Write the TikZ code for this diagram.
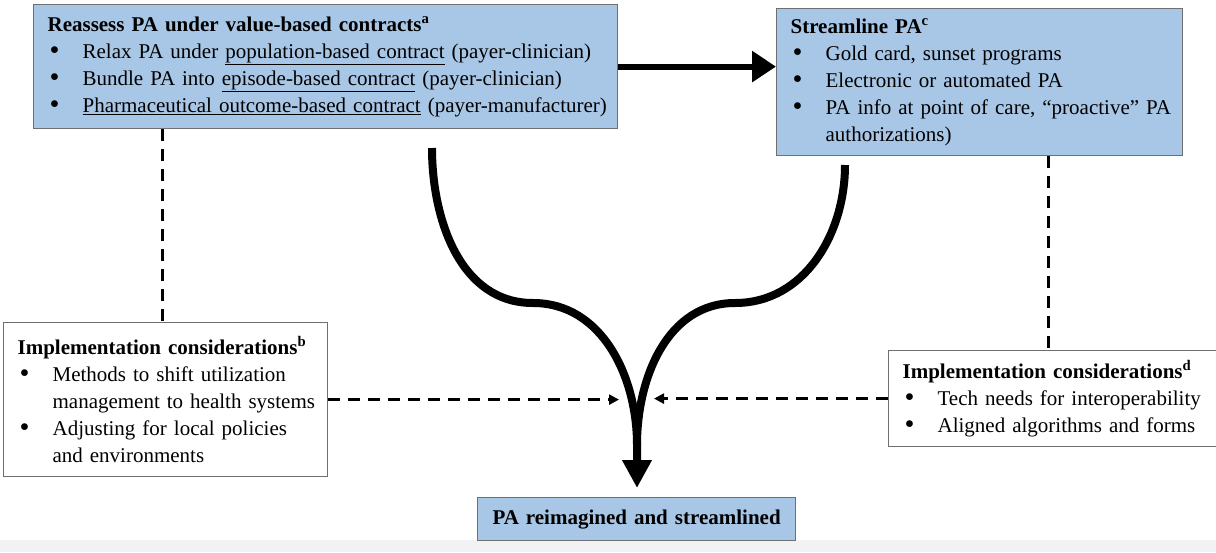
\documentclass[tikz,border=0pt]{standalone}
\usepackage{fontspec}
\setmainfont{Liberation Serif}
\usepackage{xcolor}
\usepackage{graphicx}
\usetikzlibrary{positioning,arrows.meta}

\definecolor{paBlue}{RGB}{168,198,229}
\definecolor{paEdge}{RGB}{110,110,115}
\definecolor{paBand}{RGB}{242,242,245}

\newcommand{\bitem}[1]{\mbox{\makebox[35pt][l]{\hspace{2pt}\raisebox{-1pt}{\scalebox{1.35}{\textbullet}}}#1}}
\newcommand{\bcont}[1]{\mbox{\hspace*{35pt}#1}}

\begin{document}
\begin{tikzpicture}[x=1pt, y=-1pt,
  panel/.style={draw=paEdge, line width=1.2pt, anchor=north west, align=left,
                inner xsep=14pt, inner ysep=0pt,
                font=\fontsize{21}{27}\selectfont},
  bluebox/.style={panel, fill=paBlue},
  whitebox/.style={panel, fill=white},
  fatarr/.style={-{Triangle[width=30pt,length=24pt]}, line width=6pt},
  curvearr/.style={line width=8pt, line join=round},
  dsh/.style={dashed, dash pattern=on 12pt off 8pt, line width=2.4pt},
  dsharr/.style={dsh, -{Triangle[width=10pt,length=10pt]}}
]
\useasboundingbox (0,0) rectangle (1216,552);
\fill[paBand] (0,540) rectangle (1216,552);

%% --- Top row ---
\node[bluebox, text width=556pt, minimum height=124pt] (reassess) at (33,4)
  {\textbf{Reassess PA under value-based contracts\textsuperscript{a}}\\
   \bitem{Relax PA under \underline{population-based contract} (payer-clinician)}\\
   \bitem{Bundle PA into \underline{episode-based contract} (payer-clinician)}\\
   \bitem{\underline{Pharmaceutical outcome-based contract} (payer-manufacturer)}};
\node[bluebox, text width=378pt, minimum height=147pt] (stream) at (776,8)
  {\textbf{Streamline PA\textsuperscript{c}}\\
   \bitem{Gold card, sunset programs}\\
   \bitem{Electronic or automated PA}\\
   \bitem{PA info at point of care, ``proactive'' PA}\\
   \bcont{authorizations)}};
\draw[fatarr] (reassess.east) -- (stream.west |- reassess.east);

%% --- Implementation considerations ---
\node[whitebox, text width=296pt, minimum height=154pt] (implb) at (3,322)
  {\textbf{Implementation considerations\textsuperscript{b}}\\
   \bitem{Methods to shift utilization}\\
   \bcont{management to health systems}\\
   \bitem{Adjusting for local policies}\\
   \bcont{and environments}};
\node[whitebox, text width=302pt, minimum height=96pt] (impld) at (888,350)
  {\textbf{Implementation considerations\textsuperscript{d}}\\
   \bitem{Tech needs for interoperability}\\
   \bitem{Aligned algorithms and forms}};
\draw[dsh] ([xshift=-3pt]implb.north |- reassess.south) -- ([xshift=-3pt]implb.north);
\draw[dsh] ([xshift=-5pt]impld.north |- stream.south) -- ([xshift=-5pt]impld.north);

%% --- Result ---
\node[bluebox, align=center, text width=290pt, minimum height=43pt,
      anchor=north west] (result) at (477,497)
  {\textbf{PA reimagined and streamlined}};

%% --- Merging arrows ---
\coordinate (lstart) at (432,148);
\coordinate (lmid)   at (533,303);
\coordinate (rstart) at (845,165);
\coordinate (rmid)   at (735,303);
\coordinate (join)   at (637,445);
\coordinate (tip)    at (637,488);
\draw[curvearr, -{Triangle[width=28pt,length=28pt]}]
  (lstart) to[out=-90,in=180] (lmid) to[out=0,in=90] (join) -- (tip);
\draw[curvearr] (rstart) to[out=-90,in=0] (rmid) to[out=180,in=90] (join);

\draw[dsharr] (implb.east) -- (implb.east -| 619,0);
\draw[dsharr] (impld.west) -- (impld.west -| 654,0);
\end{tikzpicture}
\end{document}
